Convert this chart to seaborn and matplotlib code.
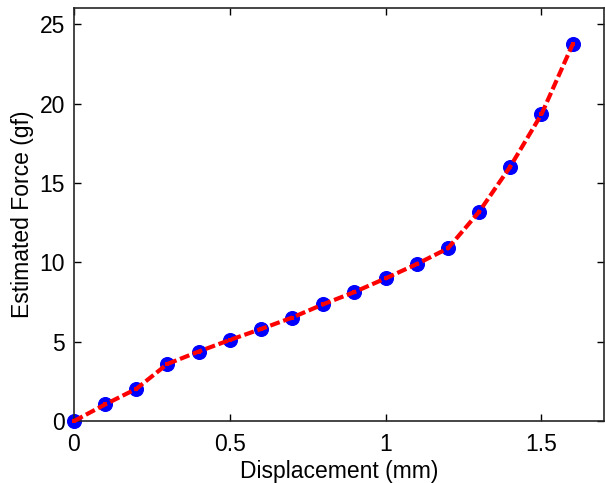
import matplotlib
matplotlib.use("Agg")
import matplotlib.pyplot as plt
import seaborn as sns
import pandas as pd

displacement = [0.0, 0.1, 0.2, 0.3, 0.4, 0.5, 0.6, 0.7, 0.8, 0.9, 1.0, 1.1, 1.2, 1.3, 1.4, 1.5, 1.6]
force = [0.0, 1.05, 2.03, 3.6, 4.38, 5.11, 5.8, 6.52, 7.36, 8.13, 8.99, 9.89, 10.88, 13.18, 16.03, 19.32, 23.72]
xticks = [0, 0.5, 1, 1.5]
xticklabels = ["0", "0.5", "1", "1.5"]
yticks = [0, 5, 10, 15, 20, 25]
yticklabels = ["0", "5", "10", "15", "20", "25"]

df = pd.DataFrame({"Displacement (mm)": displacement, "Estimated Force (gf)": force})

sns.set_style("white")
plt.rcParams["font.family"] = ["Liberation Sans", "DejaVu Sans"]

fig = plt.figure(figsize=(6.05, 4.83), dpi=100)
ax = fig.add_axes([0.122, 0.128, 0.876, 0.855])

sns.scatterplot(data=df, x="Displacement (mm)", y="Estimated Force (gf)", ax=ax,
                color="#0000ff", s=100, edgecolor="#0000ff", linewidth=0.8, zorder=2, clip_on=False)
sns.lineplot(data=df, x="Displacement (mm)", y="Estimated Force (gf)", ax=ax,
             color="#ff0000", linewidth=3.0, linestyle=(0, (2.4, 0.9)), marker="s",
             markersize=2.4, markeredgewidth=0, markerfacecolor="#ff0000", zorder=3, clip_on=False)

ax.set_xlim(0, 1.7)
ax.set_ylim(0, 26)
ax.set_xticks(xticks)
ax.set_xticklabels(xticklabels)
ax.set_yticks(yticks)
ax.set_yticklabels(yticklabels)
ax.tick_params(direction="in", length=5, width=1, top=True, right=True,
               bottom=True, left=True, labelsize=16.5, colors="black", labelcolor="black")
ax.tick_params(axis="x", pad=8.5)
ax.tick_params(axis="y", pad=6.5)
for s in ax.spines.values():
    s.set_visible(True)
    s.set_color("#262626")
    s.set_linewidth(1.2)
ax.set_xlabel("Displacement (mm)", fontsize=16.5, labelpad=3, color="black")
ax.set_ylabel("Estimated Force (gf)", fontsize=16.5, labelpad=4, color="black")

fig.savefig("out.png", dpi=100)
